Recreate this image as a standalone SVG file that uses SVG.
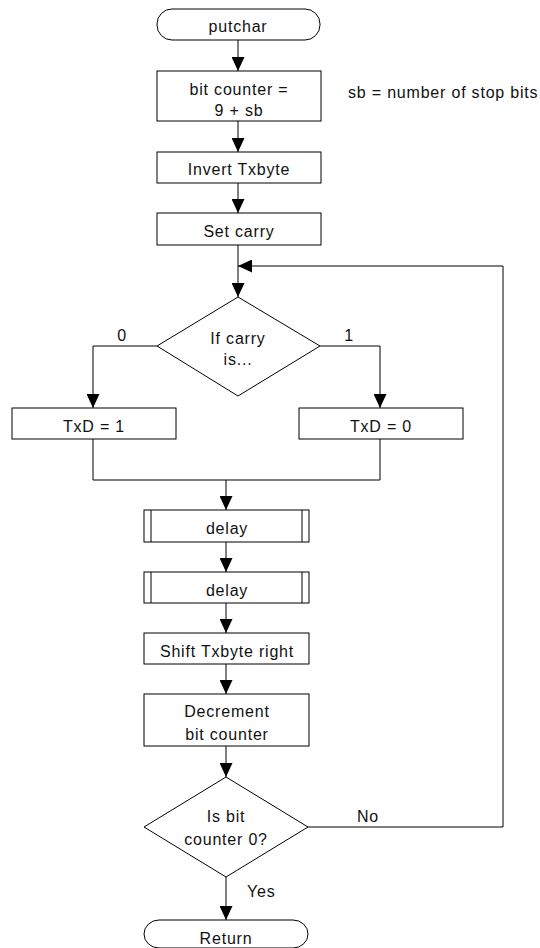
<svg xmlns="http://www.w3.org/2000/svg" width="540" height="948" viewBox="0 0 540 948">
<style>
.s{fill:#fff;stroke:#000;stroke-width:1}
.c{fill:none;stroke:#000;stroke-width:1}
.t{font-family:"Liberation Sans",Arial,sans-serif;font-size:16px;letter-spacing:0.8px;fill:#111}
.m{text-anchor:middle}
</style>
<defs>
<marker id="ah" markerUnits="userSpaceOnUse" markerWidth="14" markerHeight="13" refX="14" refY="6.5" orient="auto">
<path d="M0,0 L14,6.5 L0,13 z" fill="#000"/>
</marker>
</defs>
<rect width="540" height="948" fill="#fff"/>
<g id="connectors">
<path class="c" d="M238,40 V71" marker-end="url(#ah)"/>
<path class="c" d="M238,121 V152" marker-end="url(#ah)"/>
<path class="c" d="M238,183 V213" marker-end="url(#ah)"/>
<path class="c" d="M238,245 V297" marker-end="url(#ah)"/>
<path class="c" d="M308,827 H503 V266 H238" marker-end="url(#ah)"/>
<path class="c" d="M157,346 H93 V408" marker-end="url(#ah)"/>
<path class="c" d="M320,346 H380 V408" marker-end="url(#ah)"/>
<path class="c" d="M93,439 V480 H380 V439"/>
<path class="c" d="M226,480 V510" marker-end="url(#ah)"/>
<path class="c" d="M226,542 V572" marker-end="url(#ah)"/>
<path class="c" d="M226,603 V633" marker-end="url(#ah)"/>
<path class="c" d="M226,664 V694" marker-end="url(#ah)"/>
<path class="c" d="M226,746 V777" marker-end="url(#ah)"/>
<path class="c" d="M226,877 V920" marker-end="url(#ah)"/>
<text class="t m" x="122" y="341">0</text>
<text class="t m" x="349" y="341">1</text>
<text class="t" x="357" y="822">No</text>
<text class="t" x="247" y="897">Yes</text>
</g>
<g id="putchar">
<rect class="s" x="157" y="9" width="163" height="31" rx="15" ry="15"/>
<text class="t m" x="238" y="32">putchar</text>
</g>
<g id="bitcounter">
<rect class="s" x="157" y="71" width="164" height="50"/>
<text class="t m" x="239" y="95">bit counter =</text>
<text class="t m" x="239" y="116">9 + sb</text>
</g>
<g id="note">
<text class="t" x="348" y="98">sb = number of stop bits</text>
</g>
<g id="invert">
<rect class="s" x="157" y="152" width="164" height="31"/>
<text class="t m" x="239" y="175">Invert Txbyte</text>
</g>
<g id="setcarry">
<rect class="s" x="157" y="213" width="164" height="32"/>
<text class="t m" x="239" y="237">Set carry</text>
</g>
<g id="ifcarry">
<polygon class="s" points="238,297 320,346 238,396 157,346"/>
<text class="t m" x="238" y="344">If carry</text>
<text class="t m" x="238" y="365">is...</text>
</g>
<g id="txd1">
<rect class="s" x="12" y="408" width="164" height="31"/>
<text class="t m" x="94" y="432">TxD = 1</text>
</g>
<g id="txd0">
<rect class="s" x="299" y="408" width="164" height="31"/>
<text class="t m" x="381" y="432">TxD = 0</text>
</g>
<g id="delay1">
<rect class="s" x="144" y="510" width="165" height="32"/>
<path class="c" d="M151,510 V542 M302,510 V542"/>
<text class="t m" x="227" y="534">delay</text>
</g>
<g id="delay2">
<rect class="s" x="144" y="572" width="165" height="31"/>
<path class="c" d="M151,572 V603 M302,572 V603"/>
<text class="t m" x="227" y="596">delay</text>
</g>
<g id="shift">
<rect class="s" x="144" y="633" width="165" height="31"/>
<text class="t m" x="227" y="657">Shift Txbyte right</text>
</g>
<g id="decrement">
<rect class="s" x="144" y="694" width="165" height="52"/>
<text class="t m" x="227" y="717">Decrement</text>
<text class="t m" x="227" y="740">bit counter</text>
</g>
<g id="isbit">
<polygon class="s" points="226,777 308,827 226,877 144,827"/>
<text class="t m" x="226" y="822">Is bit</text>
<text class="t m" x="226" y="845">counter 0?</text>
</g>
<g id="return">
<rect class="s" x="144" y="920" width="164" height="28" rx="15" ry="14"/>
<text class="t m" x="226" y="944">Return</text>
</g>
</svg>
